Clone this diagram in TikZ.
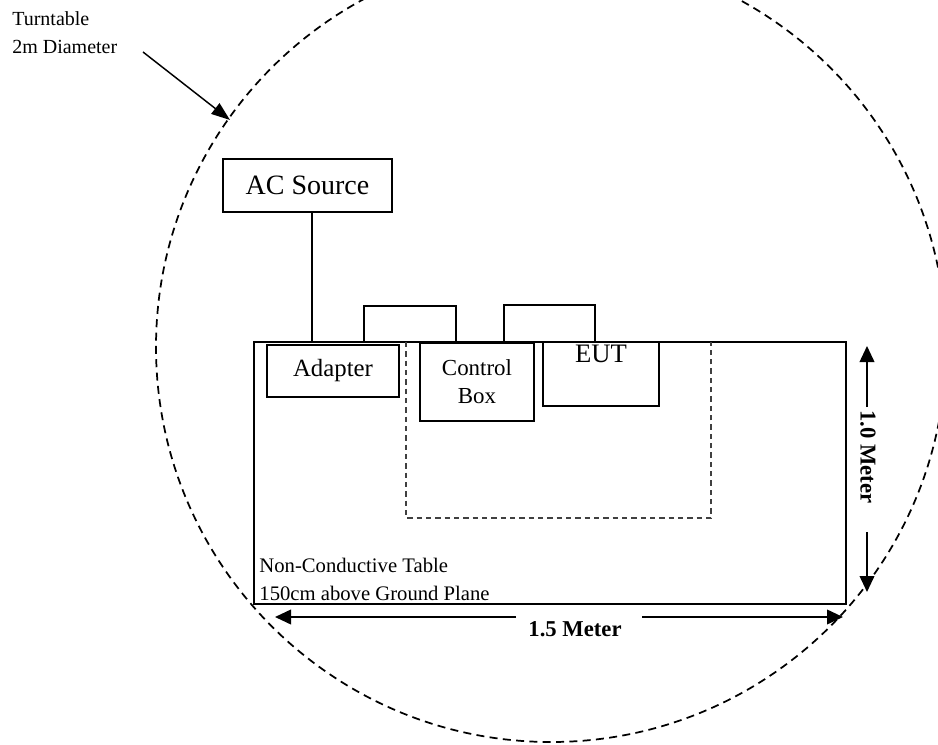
\documentclass[tikz,border=0pt]{standalone}
\usepackage{fontspec}
\setmainfont{Liberation Serif}
\usetikzlibrary{arrows.meta, positioning, calc}
\tikzset{
    unit/.style={rectangle, draw=black, line width=1.1pt, inner sep=0pt, align=center},
    tablebox/.style={rectangle, draw=black, line width=2.2pt, inner sep=0pt},
    cable/.style={line width=1.1pt},
    turntable/.style={line width=1.3pt, dash pattern=on 6pt off 4pt},
    zone/.style={line width=0.9pt, draw=black!75, dash pattern=on 4pt off 3pt},
    arrow/.style={line width=1.1pt, -{Triangle[length=14pt,width=10pt]}},
    dimarrow/.style={line width=1.3pt, -{Triangle[length=12pt,width=11pt]}},
    dimlabel/.style={inner sep=0pt, font=\fontsize{17}{20}\selectfont\bfseries}
}

\begin{document}
\begin{tikzpicture}[x=0.75pt, y=-0.75pt]
    \useasboundingbox (0,0) rectangle (938,745);

    \draw [turntable] (551,347) circle [radius=296.25pt];
    \node (ttlbl) [anchor=north west, align=left, inner sep=0pt, font=\fontsize{15}{21}\selectfont] at (12,11) {Turntable\\2m Diameter};
    \coordinate (ttfrom) at (143,52);
    \coordinate (ttedge) at (230,120);
    \draw [arrow] (ttfrom) -- (ttedge);

    \node (tbl) [tablebox, minimum width=444pt, minimum height=196.5pt] at (550,473) {};
    \draw [zone] (406,342) -- (406,518) -- (711,518) -- (711,342);
    \node (tbltxt) [anchor=south west, align=left, inner sep=0pt, font=\fontsize{15.5}{21}\selectfont] at ([xshift=5pt, yshift=3.4pt]tbl.south west) {Non-Conductive Table\\150cm above Ground Plane};

    \node (acsrc) [unit, minimum width=126.75pt, minimum height=39.75pt, font=\fontsize{21}{24}\selectfont] at (307.5,185.5) {AC Source};
    \node (adapter) [unit, minimum width=99pt, minimum height=39pt, font=\fontsize{18.6}{22}\selectfont] at (333,371) {Adapter};
    \node (ctrlbox) [unit, minimum width=85.5pt, minimum height=58.5pt, font=\fontsize{17.2}{21}\selectfont] at (477,382) {Control\\Box};
    \node (eut) [unit, minimum width=87pt, minimum height=48pt] at (601,374) {};
    \node (eutlbl) [below=3pt of eut.north, inner sep=0pt, font=\fontsize{20}{24}\selectfont] {EUT};

    \draw [cable] ([xshift=3.4pt]acsrc.south) -- ([xshift=3.4pt]acsrc.south |- tbl.north);
    \coordinate (c1a) at (364,342);
    \coordinate (c1b) at (456,342);
    \coordinate (c2a) at (504,342);
    \coordinate (c2b) at (595,342);
    \draw [cable] (c1a) -- ++(0,-36) -| (c1b);
    \draw [cable] (c2a) -- ++(0,-37) -| (c2b);

    \coordinate (hl) at (275,617);
    \coordinate (hr) at (843,617);
    \node (hmeter) [dimlabel] at (575,629) {1.5 Meter};
    \draw [dimarrow] (516,617) -- (hl);
    \draw [dimarrow] (642,617) -- (hr);

    \coordinate (vt) at (867,346);
    \coordinate (vb) at (867,592);
    \node (vmeter) [dimlabel, rotate=-90] at (868,457) {1.0 Meter};
    \draw [dimarrow] (867,407) -- (vt);
    \draw [dimarrow] (867,532) -- (vb);
\end{tikzpicture}
\end{document}
